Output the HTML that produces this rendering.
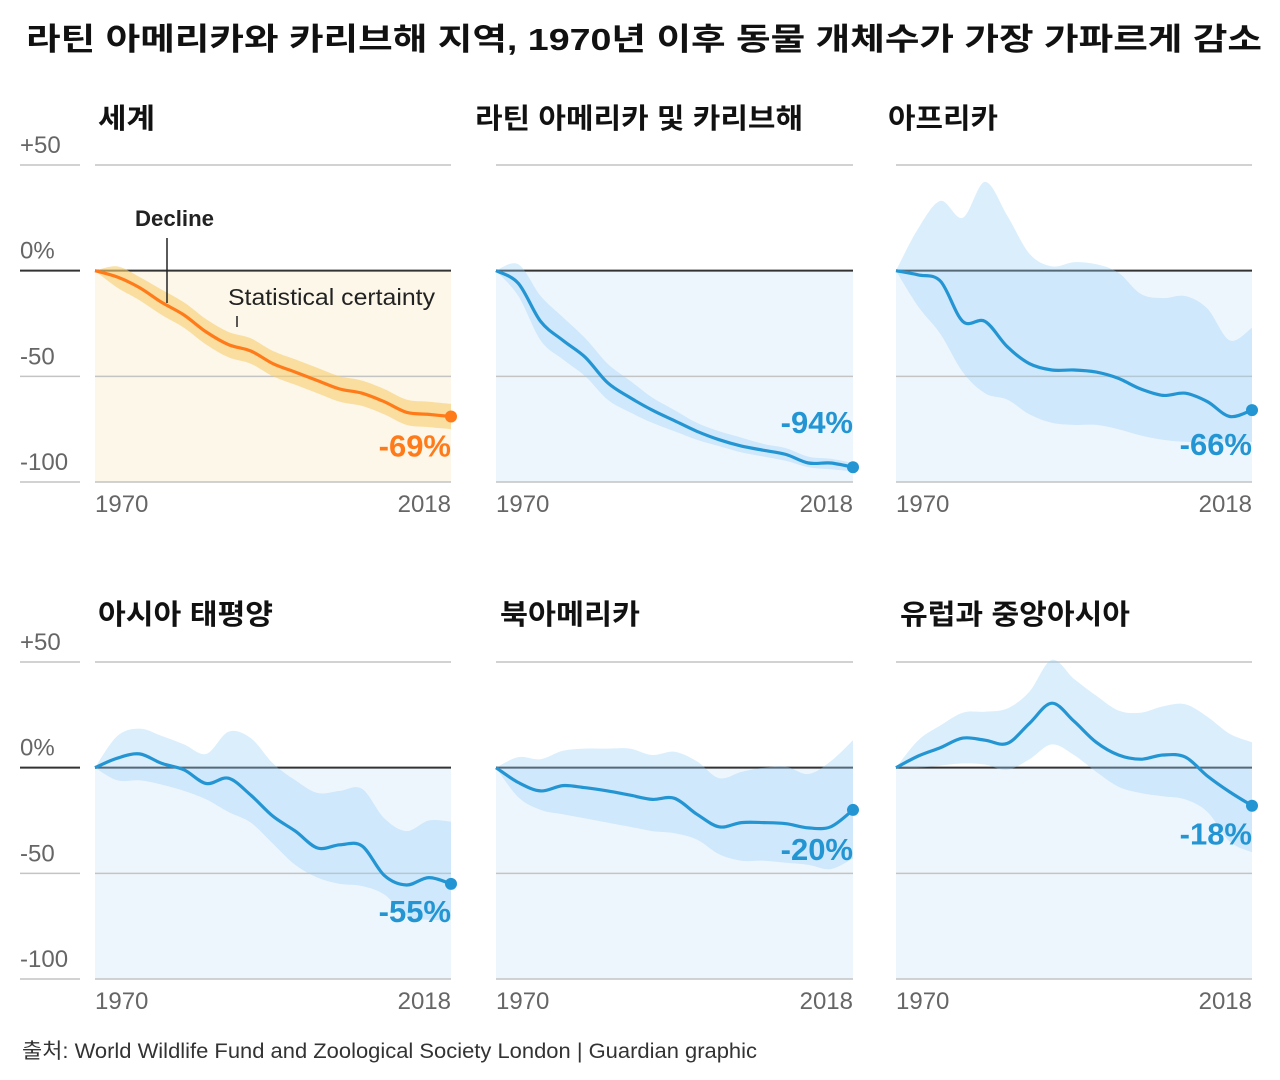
<!DOCTYPE html>
<html><head><meta charset="utf-8">
<style>
html,body{margin:0;padding:0;background:#fff;width:1280px;height:1080px;overflow:hidden}
svg{display:block;font-family:"Liberation Sans","Noto Sans CJK KR",sans-serif}
</style></head>
<body>
<svg id="chart" width="1280" height="1080" viewBox="0 0 1280 1080">
<text x="26" y="50" font-size="31" font-weight="bold" fill="#111" textLength="1236" lengthAdjust="spacingAndGlyphs">라틴 아메리카와 카리브해 지역, 1970년 이후 동물 개체수가 가장 가파르게 감소</text>
<text x="22" y="1058" font-size="21" fill="#333" textLength="735" lengthAdjust="spacingAndGlyphs">출처: World Wildlife Fund and Zoological Society London | Guardian graphic</text>
</svg>
<script>
const years = [1970,1973,1976,1979,1982,1985,1988,1991,1994,1997,2000,2003,2006,2009,2012,2015,2018];
const panelNames = ['세계','라틴 아메리카 및 카리브해','아프리카','아시아 태평양','북아메리카','유럽과 중앙아시아'];
const endLabels = ['-69%','-94%','-66%','-55%','-20%','-18%'];
const yTicks = [50,0,-50,-100];
const yTickLabels = ['+50','0%','-50','-100'];
const worldLine = [0,-3,-8,-15,-21,-29,-35,-38,-44,-48,-52,-56,-58,-62,-67,-68,-69];
const worldHi = [0,2,-3,-9,-15,-23,-29,-32,-38,-42,-46,-50,-52,-56,-61,-62,-63];
const worldLo = [0,-8,-14,-21,-27,-35,-41,-44,-50,-54,-58,-62,-64,-68,-73,-74,-75];
const latamLine = [0,-6,-24,-33,-41,-53,-60,-66,-71,-76,-80,-83,-85,-87,-91,-91,-93];
const latamHi = [0,3,-12,-22,-32,-44,-52,-60,-66,-72,-76,-79,-82,-84,-88,-89,-91];
const latamLo = [0,-12,-33,-42,-50,-61,-67,-72,-76,-80,-83,-86,-88,-90,-93,-94,-95];
const africaLine = [0,-2,-5,-24,-24,-36,-44,-47,-47,-48,-51,-56,-59,-58,-62,-69,-66];
const africaHi = [0,20,33,25,42,26,8,2,4,3,-1,-11,-13,-12,-18,-33,-27];
const africaLo = [0,-17,-30,-48,-58,-61,-68,-72,-73,-73,-75,-78,-80,-81,-81,-81,-81];
const asiaLine = [0,4.5,6.5,2,-1,-7.5,-5,-13,-23,-30,-38,-36.5,-37,-51,-55.5,-52,-55];
const asiaHi = [0,15,18.5,15,11,6.5,17,14,2,-6,-12,-11,-10,-24,-30,-25,-25.5];
const asiaLo = [0,-6,-6,-8,-11,-15,-21,-26,-36,-46,-52,-55,-56,-60,-70,-72,-72];
const naLine = [0,-7,-11,-8.5,-9.5,-11,-13,-15,-14.5,-22,-28,-26,-26,-26.5,-28.5,-28,-20];
const naHi = [0,5,4,8,9,9,9,6,7.5,3,-5,-2,0,0.5,-3,3,13];
const naLo = [0,-14,-20,-22,-24,-26,-28,-30,-31,-34,-41,-44,-44,-45,-46,-48,-43];
const euLine = [0,5.5,9.5,14,13,11.5,21,30.5,22,12,6,4,6,5,-4,-11.5,-18];
const euHi = [0,13,20,26,26.5,28,36,51,42,34,27,26,29,30,24,16,12];
const euLo = [0,0,1,2,1.5,-1,4,11,6,-2,-9,-12,-13.5,-15,-21,-35,-40];

const lines=[worldLine,latamLine,africaLine,asiaLine,naLine,euLine];
const his=[worldHi,latamHi,africaHi,asiaHi,naHi,euHi];
const los=[worldLo,latamLo,africaLo,asiaLo,naLo,euLo];
const NS='http://www.w3.org/2000/svg';
const svg=document.getElementById('chart');
const colX=[[95,451],[496,853],[896,1252]];
const rowY=[{top:165,bottom:482,title:128},{top:662,bottom:979,title:624}];
const titleX=[[98,475,888],[98,500,900]];
const titleW=[57,328,110,175,140,230];
function mk(tag,attrs,parent){const e=document.createElementNS(NS,tag);for(const k in attrs)e.setAttribute(k,attrs[k]);(parent||svg).appendChild(e);return e;}
function smooth(pts){let d='M'+pts[0][0]+','+pts[0][1];for(let i=0;i<pts.length-1;i++){const p0=pts[i-1]||pts[i],p1=pts[i],p2=pts[i+1],p3=pts[i+2]||p2;const c1=[p1[0]+(p2[0]-p0[0])/6,p1[1]+(p2[1]-p0[1])/6],c2=[p2[0]-(p3[0]-p1[0])/6,p2[1]-(p3[1]-p1[1])/6];d+=' C'+c1[0].toFixed(1)+','+c1[1].toFixed(1)+' '+c2[0].toFixed(1)+','+c2[1].toFixed(1)+' '+p2[0].toFixed(1)+','+p2[1].toFixed(1);}return d;}
function smoothCont(pts){return smooth(pts).replace(/^M/,'L');}
for(let p=0;p<6;p++){
  const r=Math.floor(p/3),c=p%3;
  const [x0,x1]=colX[c];const R=rowY[r];
  const xs=yr=>x0+(yr-1970)/(2018-1970)*(x1-x0);
  const ys=v=>R.top+(50-v)/150*(R.bottom-R.top);
  const isWorld=p===0;
  const g=mk('g',{});
  
  
  const t=mk('text',{x:titleX[r][c],y:R.title,'font-size':28,'font-weight':'bold',fill:'#111',textLength:titleW[p],lengthAdjust:'spacingAndGlyphs'},g);
  t.textContent=panelNames[p];
  
  
  const bg=mk('rect',{x:x0,y:ys(0),width:x1-x0,height:ys(-100)-ys(0),fill:isWorld?'#fdf7e9':'#eef6fd'},g);
  
  
  yTicks.forEach((v,i)=>{
    const gl=mk('line',{x1:x0,x2:x1,y1:ys(v),y2:ys(v),stroke:v===0?'#333':'#c4c4c4','stroke-width':v===0?2:1.5},g);
    
    
    if(c===0){
      const gl2=mk('line',{x1:20,x2:80,y1:ys(v),y2:ys(v),stroke:v===0?'#333':'#c4c4c4','stroke-width':v===0?2:1.5},g);
      
      
      const tl=mk('text',{x:20,y:ys(v)-12,'font-size':24,fill:'#666'},g);
      tl.textContent=yTickLabels[i];
      
      
    }
  });
  const up=years.map((y,i)=>[xs(y),ys(his[p][i])]);
  const dn=years.map((y,i)=>[xs(y),ys(los[p][i])]).reverse();
  const band=mk('path',{d:smooth(up)+' '+smoothCont(dn)+' Z',fill:isWorld?'rgba(247,205,110,0.6)':'rgba(150,205,245,0.35)'},g);
  
  
  const lp=years.map((y,i)=>[xs(y),ys(lines[p][i])]);
  const col=isWorld?'#ff7b1a':'#2495d3';
  const ln=mk('path',{d:smooth(lp),fill:'none',stroke:col,'stroke-width':3.2,'stroke-linejoin':'round'},g);
  
  
  const last=lp[lp.length-1];
  const dot=mk('circle',{cx:last[0],cy:last[1],r:6,fill:col},g);
  
  
  const offs=[40,-34,45,38,50,39];
  const el=mk('text',{x:x1,y:last[1]+offs[p],'text-anchor':'end','font-size':31,'font-weight':'bold',fill:col},g);
  el.textContent=endLabels[p];
  
  
  const ya=mk('text',{x:x0,y:R.bottom+30,'font-size':24,fill:'#666'},g);ya.textContent='1970';
  
  
  const yb=mk('text',{x:x1,y:R.bottom+30,'font-size':24,fill:'#666','text-anchor':'end'},g);yb.textContent='2018';
  
  
}
const a1=mk('text',{x:135,y:226,'font-size':22,'font-weight':'bold',fill:'#222',textLength:79,lengthAdjust:'spacingAndGlyphs'});a1.textContent='Decline';


const a1l=mk('line',{x1:167,x2:167,y1:238,y2:303,stroke:'#222','stroke-width':1.5});


const a2=mk('text',{x:228,y:305,'font-size':23,fill:'#222',textLength:207,lengthAdjust:'spacingAndGlyphs'});a2.textContent='Statistical certainty';


const a2l=mk('line',{x1:237,x2:237,y1:316,y2:327,stroke:'#222','stroke-width':1.5});


</script>
</body></html>
